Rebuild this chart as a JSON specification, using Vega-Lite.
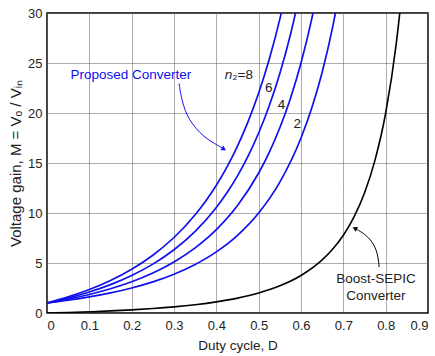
{
  "$schema": "https://vega.github.io/schema/vega-lite/v6.json",
  "width": 381,
  "height": 300,
  "autosize": "none",
  "padding": {"left": 47, "top": 13, "right": 7, "bottom": 43},
  "config": {
    "view": {"stroke": "#000", "strokeWidth": 1.5},
    "font": "Liberation Sans",
    "axis": {
      "grid": true, "gridColor": "#5a5a5a", "gridDash": [1, 1], "gridWidth": 1,
      "domain": false, "ticks": false,
      "labelFont": "Liberation Sans", "labelFontSize": 13, "labelColor": "#222",
      "titleFont": "Liberation Sans", "titleFontWeight": "normal", "titleColor": "#222"
    }
  },
  "datasets": {
    "blue": [
      {"D": 0, "M": 1, "s": "2"}, {"D": 0.05, "M": 1.274, "s": "2"}, {"D": 0.1, "M": 1.605, "s": "2"},
      {"D": 0.15, "M": 2.007, "s": "2"}, {"D": 0.2, "M": 2.5, "s": "2"}, {"D": 0.25, "M": 3.111, "s": "2"},
      {"D": 0.3, "M": 3.878, "s": "2"}, {"D": 0.35, "M": 4.852, "s": "2"}, {"D": 0.4, "M": 6.111, "s": "2"},
      {"D": 0.45, "M": 7.769, "s": "2"}, {"D": 0.5, "M": 10, "s": "2"}, {"D": 0.55, "M": 13.086, "s": "2"},
      {"D": 0.6, "M": 17.5, "s": "2"}, {"D": 0.625, "M": 20.444, "s": "2"}, {"D": 0.65, "M": 24.082, "s": "2"},
      {"D": 0.675, "M": 28.639, "s": "2"}, {"D": 0.7, "M": 34.444, "s": "2"},
      {"D": 0, "M": 1, "s": "4"}, {"D": 0.05, "M": 1.385, "s": "4"}, {"D": 0.1, "M": 1.852, "s": "4"},
      {"D": 0.15, "M": 2.422, "s": "4"}, {"D": 0.2, "M": 3.125, "s": "4"}, {"D": 0.25, "M": 4, "s": "4"},
      {"D": 0.3, "M": 5.102, "s": "4"}, {"D": 0.35, "M": 6.509, "s": "4"}, {"D": 0.4, "M": 8.333, "s": "4"},
      {"D": 0.45, "M": 10.744, "s": "4"}, {"D": 0.5, "M": 14, "s": "4"}, {"D": 0.525, "M": 16.066, "s": "4"},
      {"D": 0.55, "M": 18.519, "s": "4"}, {"D": 0.575, "M": 21.453, "s": "4"}, {"D": 0.6, "M": 25, "s": "4"},
      {"D": 0.625, "M": 29.333, "s": "4"}, {"D": 0.65, "M": 34.694, "s": "4"},
      {"D": 0, "M": 1, "s": "6"}, {"D": 0.05, "M": 1.496, "s": "6"}, {"D": 0.1, "M": 2.099, "s": "6"},
      {"D": 0.15, "M": 2.837, "s": "6"}, {"D": 0.2, "M": 3.75, "s": "6"}, {"D": 0.25, "M": 4.889, "s": "6"},
      {"D": 0.3, "M": 6.327, "s": "6"}, {"D": 0.35, "M": 8.166, "s": "6"}, {"D": 0.4, "M": 10.556, "s": "6"},
      {"D": 0.425, "M": 12.023, "s": "6"}, {"D": 0.45, "M": 13.719, "s": "6"}, {"D": 0.475, "M": 15.692, "s": "6"},
      {"D": 0.5, "M": 18, "s": "6"}, {"D": 0.525, "M": 20.72, "s": "6"}, {"D": 0.55, "M": 23.951, "s": "6"},
      {"D": 0.575, "M": 27.82, "s": "6"}, {"D": 0.6, "M": 32.5, "s": "6"},
      {"D": 0, "M": 1, "s": "8"}, {"D": 0.05, "M": 1.607, "s": "8"}, {"D": 0.1, "M": 2.346, "s": "8"},
      {"D": 0.15, "M": 3.253, "s": "8"}, {"D": 0.2, "M": 4.375, "s": "8"}, {"D": 0.25, "M": 5.778, "s": "8"},
      {"D": 0.3, "M": 7.551, "s": "8"}, {"D": 0.35, "M": 9.822, "s": "8"}, {"D": 0.375, "M": 11.2, "s": "8"},
      {"D": 0.4, "M": 12.778, "s": "8"}, {"D": 0.425, "M": 14.594, "s": "8"}, {"D": 0.45, "M": 16.694, "s": "8"},
      {"D": 0.475, "M": 19.138, "s": "8"}, {"D": 0.5, "M": 22, "s": "8"}, {"D": 0.525, "M": 25.374, "s": "8"},
      {"D": 0.55, "M": 29.383, "s": "8"}, {"D": 0.575, "M": 34.187, "s": "8"}
    ],
    "boost": [
      {"D": 0, "M": 0}, {"D": 0.05, "M": 0.0554}, {"D": 0.1, "M": 0.1235}, {"D": 0.15, "M": 0.2076},
      {"D": 0.2, "M": 0.3125}, {"D": 0.25, "M": 0.4444}, {"D": 0.3, "M": 0.6122}, {"D": 0.35, "M": 0.8284},
      {"D": 0.4, "M": 1.1111}, {"D": 0.45, "M": 1.4876}, {"D": 0.5, "M": 2}, {"D": 0.55, "M": 2.716},
      {"D": 0.6, "M": 3.75}, {"D": 0.65, "M": 5.306}, {"D": 0.675, "M": 6.391}, {"D": 0.7, "M": 7.778},
      {"D": 0.725, "M": 9.587}, {"D": 0.75, "M": 12}, {"D": 0.775, "M": 15.309}, {"D": 0.8, "M": 20},
      {"D": 0.825, "M": 26.939}, {"D": 0.8375, "M": 31.716}, {"D": 0.85, "M": 37.778}
    ],
    "arrowP": [
      {"i": 0, "x": 0.312, "y": 22.94}, {"i": 1, "x": 0.318, "y": 21.27}, {"i": 2, "x": 0.334, "y": 19.27},
      {"i": 3, "x": 0.37, "y": 17.6}, {"i": 4, "x": 0.397, "y": 16.92}, {"i": 5, "x": 0.414, "y": 16.5}
    ],
    "arrowB": [
      {"i": 0, "x": 0.7846, "y": 4.6}, {"i": 1, "x": 0.7815, "y": 5.94}, {"i": 2, "x": 0.7696, "y": 7.1},
      {"i": 3, "x": 0.7496, "y": 7.94}, {"i": 4, "x": 0.73, "y": 8.4}
    ],
    "headP": [{"x": 0.418, "y": 16.4}],
    "headB": [{"x": 0.727, "y": 8.47}],
    "blueText": [{"x": 0.198, "y": 23.8, "t": "Proposed Converter"}],
    "blackText": [
      {"x": 0.524, "y": 22.54, "t": "6"}, {"x": 0.554, "y": 20.84, "t": "4"}, {"x": 0.591, "y": 18.94, "t": "2"},
      {"x": 0.777, "y": 3.44, "t": "Boost-SEPIC"}, {"x": 0.777, "y": 1.67, "t": "Converter"}
    ],
    "nText": [{"x": 0.4378, "y": 23.77, "t": "n"}],
    "nRest": [{"x": 0.4378, "y": 23.77, "t": "₂=8"}]
  },
  "layer": [
    {
      "data": {"name": "blue"},
      "mark": {"type": "line", "color": "#1010ee", "strokeWidth": 1.7, "interpolate": "monotone", "clip": true},
      "encoding": {
        "x": {"field": "D", "type": "quantitative", "scale": {"domain": [0, 0.9], "nice": false},
          "axis": {"values": [0, 0.1, 0.2, 0.3, 0.4, 0.5, 0.6, 0.7, 0.8, 0.9],
            "labelExpr": "datum.value == 0 ? '0' : format(datum.value, '.1f')",
            "title": "Duty cycle, D", "titleFontSize": 13.5, "labelPadding": 6, "titlePadding": 6}},
        "y": {"field": "M", "type": "quantitative", "scale": {"domain": [0, 30], "nice": false},
          "axis": {"values": [0, 5, 10, 15, 20, 25, 30], "title": "Voltage gain, M = Vₒ / Vᵢₙ",
            "titleFontSize": 15, "labelPadding": 5, "titlePadding": 4}},
        "detail": {"field": "s"}
      }
    },
    {
      "data": {"name": "boost"},
      "mark": {"type": "line", "color": "#000", "strokeWidth": 1.6, "interpolate": "monotone", "clip": true},
      "encoding": {"x": {"field": "D", "type": "quantitative"}, "y": {"field": "M", "type": "quantitative"}}
    },
    {
      "data": {"name": "arrowP"},
      "mark": {"type": "line", "color": "#1010ee", "strokeWidth": 1, "interpolate": "basis"},
      "encoding": {"x": {"field": "x", "type": "quantitative"}, "y": {"field": "y", "type": "quantitative"}, "order": {"field": "i"}}
    },
    {
      "data": {"name": "arrowB"},
      "mark": {"type": "line", "color": "#000", "strokeWidth": 1, "interpolate": "basis"},
      "encoding": {"x": {"field": "x", "type": "quantitative"}, "y": {"field": "y", "type": "quantitative"}, "order": {"field": "i"}}
    },
    {
      "data": {"name": "headP"},
      "mark": {"type": "point", "shape": "triangle-right", "filled": true, "color": "#1010ee", "size": 30, "angle": 29, "opacity": 1},
      "encoding": {"x": {"field": "x", "type": "quantitative"}, "y": {"field": "y", "type": "quantitative"}}
    },
    {
      "data": {"name": "headB"},
      "mark": {"type": "point", "shape": "triangle-right", "filled": true, "color": "#000", "size": 30, "angle": 206, "opacity": 1},
      "encoding": {"x": {"field": "x", "type": "quantitative"}, "y": {"field": "y", "type": "quantitative"}}
    },
    {
      "data": {"name": "blueText"},
      "mark": {"type": "text", "color": "#1010ee", "fontSize": 13.5, "align": "center", "baseline": "middle"},
      "encoding": {"x": {"field": "x", "type": "quantitative"}, "y": {"field": "y", "type": "quantitative"}, "text": {"field": "t"}}
    },
    {
      "data": {"name": "blackText"},
      "mark": {"type": "text", "color": "#222", "fontSize": 13.5, "align": "center", "baseline": "middle"},
      "encoding": {"x": {"field": "x", "type": "quantitative"}, "y": {"field": "y", "type": "quantitative"}, "text": {"field": "t"}}
    },
    {
      "data": {"name": "nText"},
      "mark": {"type": "text", "color": "#222", "fontSize": 13.5, "fontStyle": "italic", "align": "right", "baseline": "middle"},
      "encoding": {"x": {"field": "x", "type": "quantitative"}, "y": {"field": "y", "type": "quantitative"}, "text": {"field": "t"}}
    },
    {
      "data": {"name": "nRest"},
      "mark": {"type": "text", "color": "#222", "fontSize": 13.5, "align": "left", "baseline": "middle"},
      "encoding": {"x": {"field": "x", "type": "quantitative"}, "y": {"field": "y", "type": "quantitative"}, "text": {"field": "t"}}
    }
  ]
}
